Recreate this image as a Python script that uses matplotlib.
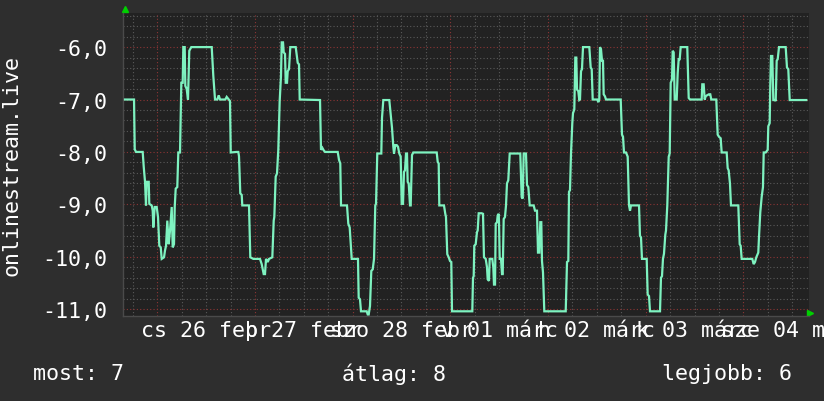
import matplotlib
matplotlib.use("Agg")
import matplotlib.pyplot as plt
import numpy as np

# ---- data (hours since 26 Feb 00:00, rank shown as negative value) ----
hours = [
    -7.94, -5.72, -5.55, -5.23, -3.59, -3.34, -3.02, -2.78, -2.60, -2.11, -1.97, -1.38, -1.13, -0.98,
    -0.64, -0.15, 0.17, 0.49, 0.84, 1.08, 1.65, 1.89, 2.14, 2.46, 2.80, 3.12, 3.54, 3.78, 4.10, 4.28,
    4.52, 4.91, 5.16, 5.58, 5.90, 6.24, 6.39, 6.73, 6.88, 7.22, 7.54, 7.86, 8.35, 13.37, 13.76, 14.18,
    14.74, 15.09, 15.41, 16.71, 17.05, 17.54, 17.86, 18.04, 19.51,
    19.90, 20.07, 20.39, 20.74, 20.88, 22.53, 22.85, 23.59, 25.23, 25.65, 26.14, 26.46, 26.71, 27.13,
    27.45, 28.26, 28.60, 28.75, 29.09, 29.41, 29.73, 30.07, 30.39, 30.57, 30.89, 31.06, 31.38, 31.55,
    31.87, 32.04, 32.36, 32.68, 34.01, 34.50, 34.82, 34.99, 39.98, 40.22, 40.54, 40.89, 41.21, 44.33,
    44.64, 44.96, 45.14, 46.61, 46.93, 47.27, 47.77,
    49.31, 49.48, 49.80, 50.05, 51.45, 51.70, 51.94, 52.26, 52.58, 52.93, 53.25, 53.56, 53.74, 54.05,
    55.04, 55.21, 55.53, 57.00, 57.35, 57.67, 57.99, 58.16, 58.48, 58.82, 59.14, 59.46, 59.80, 60.05,
    60.37, 60.61, 60.86, 61.11, 61.35, 61.52, 61.77, 62.09, 62.26, 62.58, 62.90, 68.65, 68.90, 69.14,
    69.29, 70.44, 70.76, 70.93, 71.25, 71.60, 71.92, 72.24, 72.41,
    77.40, 77.57, 77.74, 77.89, 78.23, 78.55, 78.72, 78.97, 79.71, 80.03, 80.27, 80.69, 81.01, 81.18,
    81.50, 81.67, 82.31, 82.56, 82.73, 82.98, 83.15, 83.47, 83.64, 83.89, 83.96, 84.13, 84.45, 84.70,
    84.87, 85.11, 85.43, 85.68, 85.92, 86.24, 86.59, 89.19, 89.53, 89.78, 90.03, 90.59, 90.84, 91.16,
    91.50, 92.48, 92.80, 93.29, 93.54, 93.86, 94.11, 94.35, 94.52, 94.77, 95.09, 100.35, 100.67,
    100.99, 101.16, 101.40, 101.65, 101.97, 102.14, 102.46, 102.71, 102.95, 103.13, 103.44, 103.69,
    103.86, 104.11, 104.35, 104.60, 106.15, 106.49, 106.74, 106.98, 108.11, 108.36, 108.60, 108.77,
    109.02, 109.27, 109.51, 109.68, 110.00, 110.25, 113.86, 114.18, 114.43, 114.67, 115.16, 115.58,
    115.90, 116.15, 116.39, 118.36, 118.60, 118.85, 119.09, 120.25, 120.49, 120.82, 121.06, 123.52,
    123.76, 124.01, 124.25, 124.50, 124.82, 124.99, 125.31, 125.66, 125.90, 126.15, 126.47, 126.64,
    126.88, 127.13, 127.62, 127.87, 128.11, 128.36, 128.60, 130.22, 130.57, 130.89,
    133.76, 133.91, 134.25, 134.50, 134.74, 135.06, 135.55, 135.87, 136.12, 137.35, 137.69, 138.01,
    138.43, 138.67, 139.90, 140.15, 140.39, 140.71, 140.96, 142.76, 143.10, 143.34, 143.59, 146.19,
    146.54, 146.86, 147.18, 147.67, 147.84, 148.16, 148.50, 148.82, 149.00, 149.49, 149.98, 150.13,
    150.47, 150.62, 150.79, 151.11, 151.36, 151.78, 151.95, 152.19, 152.44, 152.76, 154.40, 154.72,
    155.04, 155.39, 159.47,
]
values = [
    -7.0, -7.0, -7.95, -8.0, -8.0, -8.28, -8.57, -9.02, -8.57, -8.57, -8.99, -9.02, -9.12, -9.44,
    -9.05, -9.05, -9.24, -9.79, -9.82, -10.04, -10.01, -9.88, -9.79, -9.31, -9.76, -9.5, -9.05, -9.82, -9.76, -9.05,
    -8.7, -8.67, -8.01, -8.01, -6.68, -6.68, -6.0, -6.0, -6.74, -6.8, -7.0, -6.07, -6.0, -6.0, -6.55, -7.0,
    -7.0, -6.92, -7.0, -7.0, -6.95, -7.0, -7.03, -8.01, -8.0,
    -8.0, -8.08, -8.79, -8.82, -9.02, -9.02, -10.01, -10.04, -10.04, -10.14, -10.33, -10.33, -10.04, -10.1,
    -10.04, -10.01, -9.31, -9.24, -8.47, -8.41, -7.96, -7.03, -6.55, -5.91, -5.91, -6.1, -6.13, -6.68,
    -6.68, -6.46, -6.42, -6.0, -6.0, -6.3, -6.33, -7.0, -7.01, -7.96, -7.92, -7.97, -8.0, -8.0,
    -8.15, -8.22, -9.02, -9.02, -9.37, -9.44, -10.04,
    -10.04, -10.78, -10.81, -11.04, -11.04, -11.1, -11.1, -10.94, -10.27, -10.24, -10.04, -9.02, -8.99, -8.03,
    -8.03, -7.35, -7.01, -7.01, -7.29, -7.54, -7.9, -8.03, -7.87, -7.87, -7.9, -8.03, -8.09, -8.99,
    -8.99, -8.38, -8.35, -8.03, -8.03, -8.57, -8.6, -9.02, -9.02, -8.06, -8.01, -8.01, -8.19, -8.22,
    -9.02, -9.02, -9.18, -9.24, -9.95, -10.01, -10.08, -10.1, -11.04,
    -11.04, -10.4, -10.37, -9.79, -9.76, -9.53, -9.5, -9.17, -9.17, -9.18, -10.01, -10.04, -10.2, -10.43,
    -10.46, -10.04, -10.04, -10.2, -10.53, -10.53, -9.37, -9.34, -9.21, -9.18, -9.34, -10.04, -10.04, -10.33,
    -10.33, -9.28, -9.24, -9.02, -8.6, -8.54, -8.03, -8.03, -8.86, -8.89, -8.03, -8.03, -8.63, -8.67,
    -9.02, -9.02, -9.12, -9.12, -9.92, -9.92, -9.34, -9.34, -10.08, -10.3, -11.04, -11.04, -10.1,
    -10.08, -8.76, -8.73, -8.03, -7.45, -7.26, -7.19, -6.2, -6.2, -6.81, -6.84, -7.01,
    -7.0, -6.46, -6.42, -6.0, -6.0, -6.39, -6.42, -7.0, -7.0, -7.05, -7.0, -6.0,
    -6.04, -6.26, -6.26, -6.9, -6.94, -7.0, -7.0, -7.67, -7.71, -8.01, -8.01, -8.09,
    -9.02, -9.12, -9.02, -9.02, -9.6, -9.63, -10.04, -10.04, -10.72, -10.75, -11.04, -11.04,
    -10.4, -10.37, -10.04, -9.94, -9.58, -9.5, -9.02, -8.09, -8.03, -6.68, -6.62, -6.07,
    -6.1, -7.0, -7.0, -6.49, -6.23, -6.23, -6.0, -6.0, -6.97, -7.0,
    -7.0, -6.71, -6.71, -7.0, -6.94, -6.92, -6.9, -6.9, -7.0, -7.0, -7.67, -7.71,
    -7.74, -8.01, -8.01, -8.31, -8.35, -8.6, -9.02, -9.02, -9.76, -9.79, -10.04, -10.04,
    -10.14, -10.1, -10.01, -9.92, -9.63, -9.15, -8.86, -8.67, -8.01, -8.01, -7.96, -7.51,
    -7.45, -6.71, -6.17, -6.17, -7.01, -7.01, -7.03, -6.26, -6.23, -6.0, -6.0, -6.39,
    -6.42, -7.01, -7.01,
]

day_labels = ["cs 26 febr", "p 27 febr", "szo 28 febr", "v 01 márc",
              "h 02 márc", "k 03 márc", "sze 04 márc"]
y_ticks = [-6, -7, -8, -9, -10, -11]
y_label = "onlinestream.live"
legend_names = ["most", "átlag", "legjobb"]
legend_values = [7, 8, 6]

# ---- style ----
BG = "#2e2e2e"
CANVAS = "#222222"
MINOR = "#5a5a5a"
MAJOR = "#8c3535"
LINE = "#7ef2c0"
ARROW = "#00d000"
FONT = "DejaVu Sans Mono"
FS = 15.6

W, H = 824, 402
fig = plt.figure(figsize=(W / 100, H / 100), dpi=100, facecolor=BG)
L, R, T, B = 123, 809, 13.5, 316.5
ax = fig.add_axes([L / W, 1 - B / H, (R - L) / W, (B - T) / H])
ax.set_facecolor(CANVAS)

x_lo, x_hi = -8.43, 160.13
y_lo, y_hi = -11.12, -5.34
ax.set_xlim(x_lo, x_hi)
ax.set_ylim(y_lo, y_hi)

dots = (0, (1, 2))
ndays = len(day_labels)
# vertical grid
for d in range(-1, ndays):
    for hh in (6, 12, 18):
        t = d * 24 + hh
        if x_lo < t < x_hi:
            ax.axvline(t, color=MINOR, lw=0.8, ls=dots, zorder=1)
for d in range(ndays):
    ax.axvline(d * 24, color=MAJOR, lw=0.8, ls=dots, zorder=1.5)
# horizontal grid
for yv in np.arange(-11.0, -5.3, 0.2):
    if abs(yv - round(yv)) > 1e-6:
        ax.axhline(yv, color=MINOR, lw=0.8, ls=dots, zorder=1)
for yv in y_ticks:
    ax.axhline(yv, color=MAJOR, lw=0.8, ls=dots, zorder=1.5)

ax.plot(hours, values, color=LINE, lw=1.6, zorder=3, solid_joinstyle="miter")

# ticks
ax.set_yticks(y_ticks)
ax.set_yticklabels([f"{v:.1f}".replace(".", ",") for v in y_ticks],
                   fontfamily=FONT, fontsize=FS, color="white")
ax.set_xticks([d * 24 + 12 for d in range(ndays)])
ax.set_xticklabels(day_labels, fontfamily=FONT, fontsize=FS, color="white")
ax.tick_params(axis="both", length=0)
ax.tick_params(axis="y", pad=11.5)
ax.tick_params(axis="x", pad=3.5)
for lab in ax.get_xticklabels():
    lab.set_clip_on(False)

for s in ("top", "right"):
    ax.spines[s].set_visible(False)
for s in ("left", "bottom"):
    ax.spines[s].set_color("#4a4a4a")
    ax.spines[s].set_linewidth(1)

# axis arrows
ax.plot([0.003], [1.012], marker="^", ms=4, color=ARROW, transform=ax.transAxes, clip_on=False)
ax.plot([1.002], [0.008], marker=">", ms=4, color=ARROW, transform=ax.transAxes, clip_on=False)

fig.text(12 / W, 1 - 165 / H, y_label, rotation=90, ha="center", va="center",
         fontfamily=FONT, fontsize=FS, color="white")

legend_x = [33, 342, 662]
for name, val, lx in zip(legend_names, legend_values, legend_x):
    fig.text(lx / W, 1 - 374 / H, f"{name}: {val}", ha="left", va="center",
             fontfamily=FONT, fontsize=FS, color="white")

fig.savefig("out.png", dpi=100, facecolor=BG)
